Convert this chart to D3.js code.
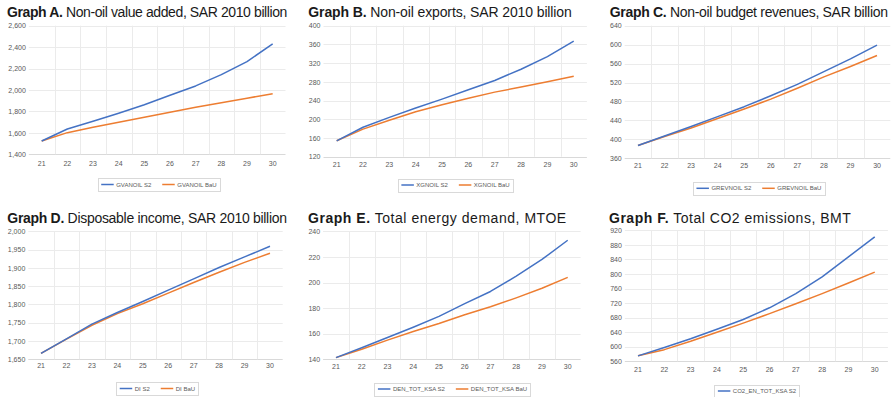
<!DOCTYPE html>
<html><head><meta charset="utf-8">
<script src="https://cdn.jsdelivr.net/npm/d3@7"></script>
<style>body{margin:0;background:#fff}svg{display:block}</style>
</head><body>
<svg id="c" width="893" height="397"></svg>
<script>
// ---- data ----
const years = ["21","22","23","24","25","26","27","28","29","30"];

const gvaNonOilS2  = [1524, 1636, 1708, 1783, 1863, 1951, 2038, 2143, 2265, 2430];
const gvaNonOilBaU = [1524, 1602, 1652, 1699, 1745, 1792, 1839, 1882, 1923, 1966];
const gvaTicks = [1400, 1600, 1800, 2000, 2200, 2400, 2600];

const xgNonOilS2  = [154, 183, 204, 224, 243, 263, 283, 307, 334, 367];
const xgNonOilBaU = [154, 179, 198, 216, 231, 245, 258, 269, 280, 292];
const xgTicks = [120, 160, 200, 240, 280, 320, 360, 400];

const grevNonOilS2  = [387, 407, 427, 448, 469, 492, 516, 543, 570, 599];
const grevNonOilBaU = [387, 406, 424, 444, 464, 485, 508, 532, 554, 577];
const grevTicks = [360, 400, 440, 480, 520, 560, 600, 640];

const diS2  = [1666, 1706, 1746, 1778, 1808, 1839, 1870, 1901, 1930, 1959];
const diBaU = [1666, 1705, 1743, 1775, 1802, 1831, 1860, 1888, 1915, 1940];
const diTicks = [1650, 1700, 1750, 1800, 1850, 1900, 1950, 2000];

const denS2  = [141.3, 149, 157, 165, 173.5, 183.5, 193, 205, 218, 233];
const denBaU = [141.3, 147.8, 155, 161.7, 168, 174.8, 181, 188, 195.5, 204];
const denTicks = [140, 160, 180, 200, 220, 240];

const co2S2  = [575, 598, 622, 648, 675, 707, 746, 792, 847, 902];
const co2BaU = [575, 592, 615, 640, 665, 691, 718, 746, 775, 805];
const co2Ticks = [560, 600, 640, 680, 720, 760, 800, 840, 880, 920];

const titlesBold = ["Graph A.", "Graph B.", "Graph C.", "Graph D.", "Graph E.", "Graph F."];
const titlesRest = [" Non-oil value added, SAR 2010 billion", " Non-oil exports, SAR 2010 billion",
  " Non-oil budget revenues, SAR billion", " Disposable income, SAR 2010 billion",
  " Total energy demand, MTOE", " Total CO2 emissions, BMT"];
const legendNames = [["GVANOIL S2","GVANOIL BaU"],["XGNOIL S2","XGNOIL BaU"],["GREVNOIL S2","GREVNOIL BaU"],
  ["DI S2","DI BaU"],["DEN_TOT_KSA S2","DEN_TOT_KSA BaU"],["CO2_EN_TOT_KSA S2"]];

// ---- layout ----
const BLUE = "#4472C4", ORANGE = "#ED7D31";
const panels = [
  {s2:gvaNonOilS2, bau:gvaNonOilBaU, ticks:gvaTicks, fmt:",", L:28.85, R:285.5, T:25.7, B:154.3, tx:7, ty:16.7, tw:280, lcx:158.9, lcy:184.5, xpad:6.5},
  {s2:xgNonOilS2, bau:xgNonOilBaU, ticks:xgTicks, fmt:"d", L:323.5, R:586.9, T:25.7, B:156.7, tx:308.3, ty:16.7, tw:263.4, lcx:455.5, lcy:185, xpad:5},
  {s2:grevNonOilS2, bau:grevNonOilBaU, ticks:grevTicks, fmt:"d", L:624.7, R:890.3, T:25.7, B:158.3, tx:609.7, ty:16.7, tw:278, lcx:758.9, lcy:188.3, xpad:5},
  {s2:diS2, bau:diBaU, ticks:diTicks, fmt:",", L:28.3, R:282.7, T:231.3, B:359.3, tx:7.3, ty:222.5, tw:279.4, lcx:157.4, lcy:388.5, xpad:3.5},
  {s2:denS2, bau:denBaU, ticks:denTicks, fmt:"d", L:323.1, R:580.6, T:231.3, B:359.3, tx:308, ty:222.5, tw:258.7, lcx:452.5, lcy:389, xpad:5},
  {s2:co2S2, bau:co2BaU, ticks:co2Ticks, fmt:"d", L:624.85, R:887.9, T:230.3, B:361.3, tx:609, ty:222.5, tw:242.3, lcx:757, lcy:391, xpad:5.5}
];

const svg = d3.select("#c");
const FONT = "'Liberation Sans', Arial, sans-serif";
const crisp = v => Math.round(v) + 0.5;

panels.forEach((p, pi) => {
  const g = svg.append("g");
  const x = d3.scaleBand().domain(years).range([p.L, p.R]).padding(0);
  const y = d3.scaleLinear().domain([p.ticks[0], p.ticks[p.ticks.length - 1]]).range([p.B, p.T]);

  // gridlines
  g.selectAll("line.hg").data(p.ticks).join("line").attr("class","hg")
    .attr("x1", p.L).attr("x2", p.R)
    .attr("y1", d => crisp(y(d))).attr("y2", d => crisp(y(d)))
    .attr("stroke", (d, i) => i === 0 ? "#d9d9d9" : "#ebebeb").attr("stroke-width", 1);
  g.selectAll("line.vg").data(years.slice(1)).join("line").attr("class","vg")
    .attr("x1", d => crisp(x(d))).attr("x2", d => crisp(x(d)))
    .attr("y1", p.T).attr("y2", p.B)
    .attr("stroke", "#ebebeb").attr("stroke-width", 1);

  // axes
  const ya = g.append("g").attr("transform", `translate(${p.L},0)`)
    .call(d3.axisLeft(y).tickValues(p.ticks).tickSize(0).tickPadding(3).tickFormat(d3.format(p.fmt)));
  const xa = g.append("g").attr("transform", `translate(0,${p.B})`)
    .call(d3.axisBottom(x).tickSize(0).tickPadding(p.xpad));
  [ya, xa].forEach(a => {
    a.select(".domain").remove();
    a.attr("font-family", FONT).attr("font-size", 7);
    a.selectAll("text").attr("fill", "#595959");
  });

  // lines
  const line = d3.line().x((d, i) => x(years[i]) + x.bandwidth() / 2).y(d => y(d));
  g.append("path").datum(p.bau).attr("d", line).attr("fill", "none")
    .attr("stroke", ORANGE).attr("stroke-width", 1.5).attr("stroke-linejoin", "round");
  g.append("path").datum(p.s2).attr("d", line).attr("fill", "none")
    .attr("stroke", BLUE).attr("stroke-width", 1.5).attr("stroke-linejoin", "round");

  // title
  const t = g.append("text").attr("x", p.tx).attr("y", p.ty)
    .attr("font-family", FONT).attr("font-size", 14).attr("fill", "#1a1a1a");
  t.append("tspan").attr("font-weight", "bold").text(titlesBold[pi]);
  t.append("tspan").text(titlesRest[pi]);
  const nat = t.node().getComputedTextLength();
  const nch = (titlesBold[pi] + titlesRest[pi]).length;
  t.attr("letter-spacing", ((p.tw - nat) / nch).toFixed(3));

  // legend
  const names = legendNames[pi];
  const colors = [BLUE, ORANGE];
  const lg = g.append("g");
  const pad = 3.5, sample = 12.5, gap = 2.5, itemGap = 11;
  const texts = names.map(n => lg.append("text").attr("font-family", FONT).attr("font-size", 6)
    .attr("fill", "#595959").attr("dy", "0.35em").attr("y", p.lcy).text(n));
  const widths = texts.map(tx => tx.node().getComputedTextLength());
  const total = pad * 2 + d3.sum(widths) + names.length * (sample + gap) + (names.length - 1) * itemGap;
  const x0 = p.lcx - total / 2;
  lg.insert("rect", ":first-child").attr("x", crisp(x0)).attr("y", crisp(p.lcy - 6.5))
    .attr("width", Math.round(total)).attr("height", 13)
    .attr("fill", "#fff").attr("stroke", "#d9d9d9").attr("stroke-width", 1);
  let cx = x0 + pad;
  names.forEach((n, i) => {
    lg.append("line").attr("x1", cx).attr("x2", cx + sample).attr("y1", p.lcy).attr("y2", p.lcy)
      .attr("stroke", colors[i]).attr("stroke-width", 1.5);
    cx += sample + gap;
    texts[i].attr("x", cx);
    cx += widths[i] + itemGap;
  });
});
</script>
</body></html>
